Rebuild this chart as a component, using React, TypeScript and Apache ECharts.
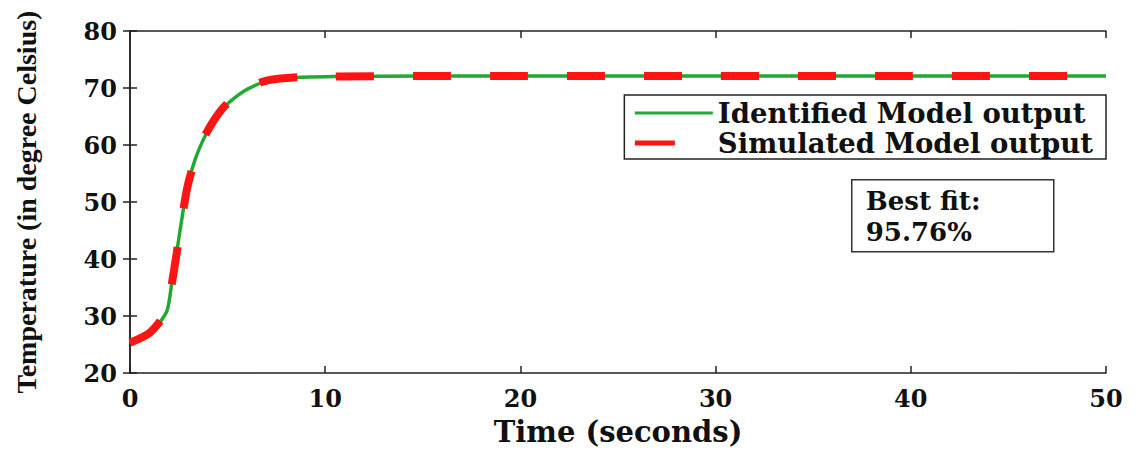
import React, { useEffect, useRef } from "react";
import * as echarts from "echarts";

// Identified model output (green solid)
const timeIdentified = [0, 1.03, 1.88, 2.14, 2.39, 2.65, 2.94, 3.33, 3.93, 4.79, 5.81, 7.0, 8.72, 10.4, 15, 20, 30, 40, 50];
const tempIdentified = [25.3, 27.0, 30.8, 35.8, 41.1, 46.9, 52.7, 57.4, 62.1, 66.5, 69.4, 71.2, 71.9, 72.0, 72.1, 72.1, 72.1, 72.1, 72.1];

// Simulated model output (red dashed)
const timeSimulated = [0, 1.03, 1.88, 2.14, 2.39, 2.65, 2.94, 3.33, 3.93, 4.79, 5.81, 7.0, 8.72, 10.4, 15, 20, 30, 40, 50];
const tempSimulated = [25.3, 27.1, 30.9, 35.6, 41.0, 46.8, 52.6, 57.4, 62.2, 66.6, 69.6, 71.3, 71.9, 72.0, 72.1, 72.1, 72.1, 72.1, 72.1];

const seriesNames = ["Identified Model output", "Simulated Model output"];
const xTitle = "Time (seconds)";
const yTitle = "Temperature (in degree Celsius)";
const fitText = ["Best fit:", "95.76%"];

const X_MIN = 0, X_MAX = 50, X_STEP = 10;
const Y_MIN = 20, Y_MAX = 80, Y_STEP = 10;

const GREEN = "#22a833";
const RED = "#ff1414";

const pairs = (xs: number[], ys: number[]) => xs.map((x, i) => [x, ys[i]]);

export default function App() {
  const ref = useRef<HTMLDivElement>(null);

  useEffect(() => {
    document.body.style.margin = "0";
    if (!ref.current) return;
    const chart = echarts.init(ref.current, null, { renderer: "svg" });

    const frame = { show: true, lineStyle: { color: "#222", width: 1.5 } };
    const tick = { show: true, inside: true, length: 7, lineStyle: { color: "#222", width: 1.5 } };
    const labelFont = { fontFamily: "DejaVu Serif", fontWeight: "bold" as const, color: "#111" };

    chart.setOption({
      animation: false,
      backgroundColor: "#fff",
      grid: { left: 130, right: 30, top: 31, bottom: 79, containLabel: false },
      xAxis: [
        {
          type: "value", position: "bottom", min: X_MIN, max: X_MAX, interval: X_STEP,
          axisLine: frame, axisTick: tick, splitLine: { show: false },
          axisLabel: { ...labelFont, fontSize: 24, margin: 13 },
          name: xTitle, nameLocation: "middle", nameGap: 44,
          nameTextStyle: { ...labelFont, fontSize: 29 },
        },
        {
          type: "value", position: "top", min: X_MIN, max: X_MAX, interval: X_STEP,
          axisLine: frame, axisTick: tick, splitLine: { show: false }, axisLabel: { show: false },
        },
      ],
      yAxis: [
        {
          type: "value", position: "left", min: Y_MIN, max: Y_MAX, interval: Y_STEP,
          axisLine: frame, axisTick: tick, splitLine: { show: false },
          axisLabel: { ...labelFont, fontSize: 24, margin: 13 },
          name: yTitle, nameLocation: "middle", nameGap: 90, nameRotate: 90,
          nameTextStyle: { fontFamily: "Liberation Serif", fontWeight: "bold", fontSize: 28, color: "#111" },
        },
        {
          type: "value", position: "right", min: Y_MIN, max: Y_MAX, interval: Y_STEP,
          axisLine: frame, axisTick: tick, splitLine: { show: false }, axisLabel: { show: false },
        },
      ],
      legend: {
        orient: "vertical", right: 30, top: 95,
        itemWidth: 78, itemHeight: 14, itemGap: 0,
        padding: [3, 13, 1, 8],
        backgroundColor: "#fff", borderColor: "#222", borderWidth: 1.5, borderRadius: 0,
        textStyle: { ...labelFont, fontSize: 27.5, lineHeight: 30 },
        data: [
          {
            name: seriesNames[0],
            itemStyle: { opacity: 0, borderWidth: 0 },
            lineStyle: { color: GREEN, width: 3, type: "solid", opacity: 1 },
          },
          {
            name: seriesNames[1],
            itemStyle: { opacity: 0, borderWidth: 0 },
            lineStyle: { color: RED, width: 5, type: [40, 40], cap: "butt", opacity: 1 },
          },
        ],
      },
      graphic: [
        {
          type: "group", left: 851, top: 179,
          children: [
            { type: "rect", shape: { x: 0, y: 0, width: 202, height: 72 }, style: { fill: "#fff", stroke: "#333", lineWidth: 1.5 } },
            {
              type: "text", x: 14, y: 6,
              style: { text: fitText.join("\n"), fill: "#111", font: "bold 26px 'DejaVu Serif'", lineHeight: 31 },
            },
          ],
        },
      ],
      series: [
        {
          name: seriesNames[0], type: "line", xAxisIndex: 0, yAxisIndex: 0,
          data: pairs(timeIdentified, tempIdentified), smooth: 0.25, symbol: "none",
          lineStyle: { color: GREEN, width: 3.5 }, itemStyle: { color: GREEN }, z: 2,
        },
        {
          name: seriesNames[1], type: "line", xAxisIndex: 0, yAxisIndex: 0,
          data: pairs(timeSimulated, tempSimulated), smooth: 0.25, symbol: "none",
          lineStyle: { color: RED, width: 8, type: [38, 39], cap: "butt" }, itemStyle: { color: RED }, z: 3,
        },
      ],
    });

    return () => chart.dispose();
  }, []);

  return <div ref={ref} style={{ width: 1136, height: 452 }} />;
}
